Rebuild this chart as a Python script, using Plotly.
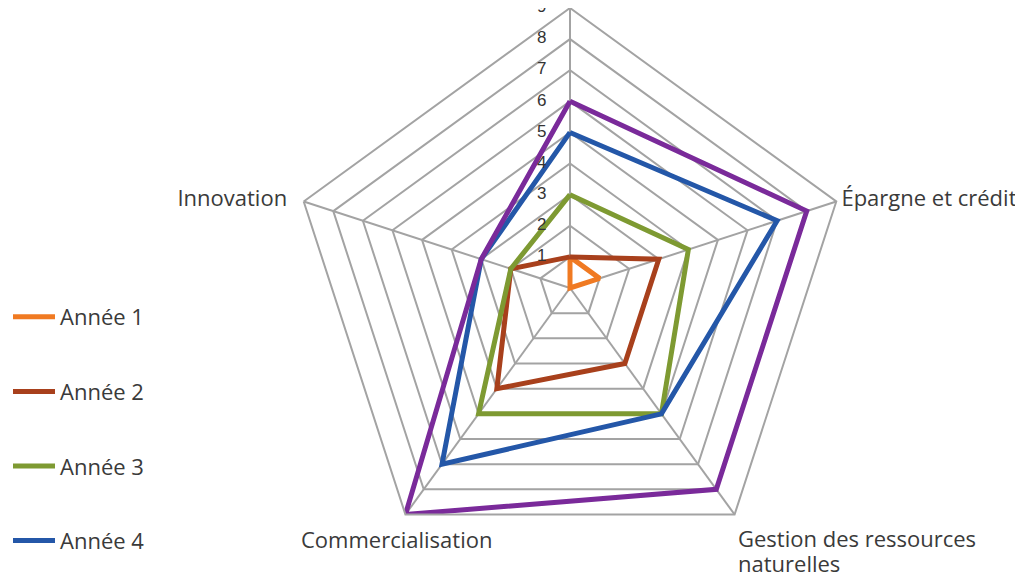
import plotly.graph_objects as go

categories = ["Top", "Épargne et crédit", "Gestion des ressources naturelles",
              "Commercialisation", "Innovation"]
category_labels = ["", "Épargne et crédit", "", "", "Innovation&nbsp;&nbsp;"]

series_names = ["Année 1", "Année 2", "Année 3", "Année 4", "Année 5"]
annee_1 = [1, 1, 0, 0, 0]
annee_2 = [1, 3, 3, 4, 2]
annee_3 = [3, 4, 5, 5, 2]
annee_4 = [5, 7, 5, 7, 3]
annee_5 = [6, 8, 8, 9, 3]
radial_ticks = [0, 1, 2, 3, 4, 5, 6, 7, 8, 9]

colors = ["#f07a22", "#a8401c", "#7e9a32", "#2457a8", "#7a2a9a"]
values = [annee_1, annee_2, annee_3, annee_4, annee_5]

fig = go.Figure()
for i, (name, vals) in enumerate(zip(series_names, values)):
    fig.add_trace(go.Scatterpolar(
        r=vals + vals[:1],
        theta=categories + categories[:1],
        mode="lines",
        name=name,
        legendgroup=name,
        showlegend=i < 4,
        line=dict(color=colors[i], width=5),
    ))

# graduations de l'axe radial, à gauche de l'axe vertical
fig.add_trace(go.Scatterpolar(
    r=radial_ticks,
    theta=[categories[0]] * len(radial_ticks),
    mode="text",
    text=[f"{v}" + "\u00a0" * 5 for v in radial_ticks],
    textposition="middle left",
    textfont=dict(family="Liberation Sans", size=17, color="#333333"),
    showlegend=False,
    hoverinfo="skip",
    cliponaxis=False,
))

W, H = 1023, 574
cx, cy, rad = 562, 280, 280
label_font = dict(family="Open Sans", size=22, color="#3a3a3a")

# libellés du bas placés comme dans l'original
fig.add_annotation(
    x=388 / W, y=1 - 531 / H, xref="paper", yref="paper",
    text="Commercialisation", showarrow=False, font=label_font,
    xanchor="center", yanchor="middle",
)
fig.add_annotation(
    x=728 / W, y=1 - 530 / H, xref="paper", yref="paper",
    text="Gestion des ressources", showarrow=False, font=label_font,
    xanchor="left", yanchor="middle",
)
fig.add_annotation(
    x=728 / W, y=1 - 555 / H, xref="paper", yref="paper",
    text="naturelles", showarrow=False, font=label_font,
    xanchor="left", yanchor="middle",
)

fig.update_layout(
    width=W, height=H,
    margin=dict(l=0, r=0, t=0, b=0),
    paper_bgcolor="white",
    plot_bgcolor="white",
    font=label_font,
    polar=dict(
        domain=dict(x=[(cx - rad) / W, (cx + rad) / W],
                    y=[max(0, (H - cy - rad) / H), min(1, (H - cy + rad) / H)]),
        bgcolor="white",
        gridshape="linear",
        radialaxis=dict(
            range=[0, 9],
            tickvals=radial_ticks,
            showticklabels=False,
            angle=90,
            showline=False,
            ticks="",
            gridcolor="#a3a3a3",
            gridwidth=2,
        ),
        angularaxis=dict(
            direction="clockwise",
            rotation=90,
            tickvals=categories,
            ticktext=category_labels,
            gridcolor="#a3a3a3",
            gridwidth=2,
            linecolor="#a3a3a3",
            linewidth=2,
            ticks="",
            tickfont=label_font,
        ),
    ),
    legend=dict(
        x=0.0, y=1 - 288 / H, xanchor="left", yanchor="top",
        tracegroupgap=43,
        font=label_font,
        itemwidth=42,
    ),
)

fig.write_html("out.html")
